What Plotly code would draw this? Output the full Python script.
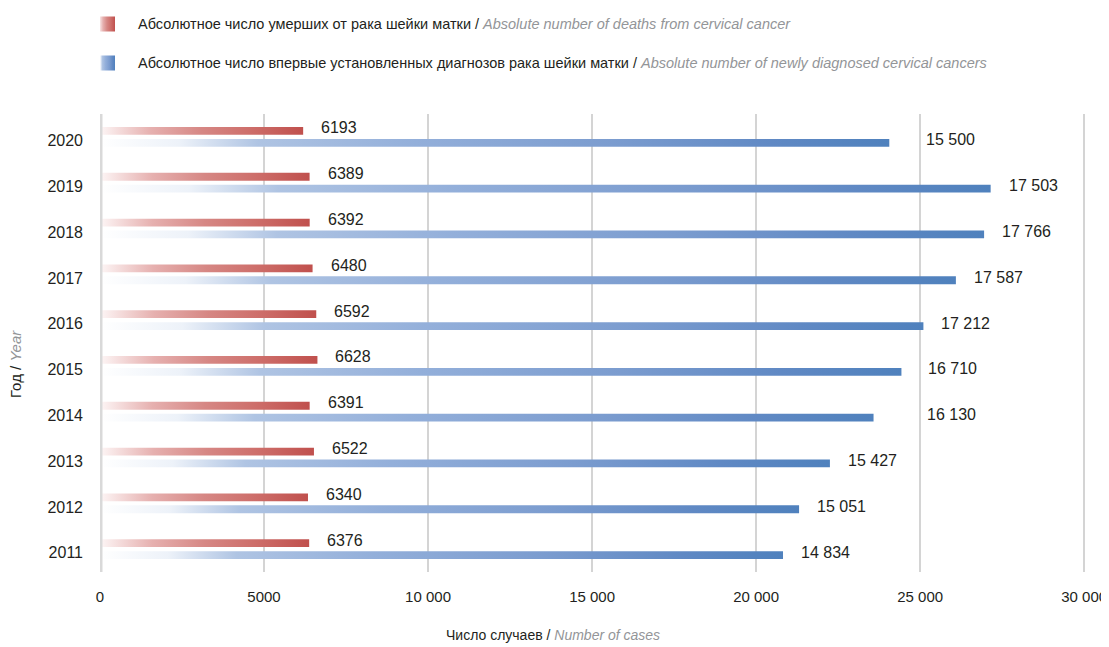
import plotly.graph_objects as go

# ── Data ──────────────────────────────────────────────────────────────────────
years = [2011, 2012, 2013, 2014, 2015, 2016, 2017, 2018, 2019, 2020]

# values printed next to the bars
deaths_labels = [6376, 6340, 6522, 6391, 6628, 6592, 6480, 6392, 6389, 6193]
diagnosed_labels = [14834, 15051, 15427, 16130, 16710, 17212, 17587, 17766, 17503, 15500]

# bar lengths as drawn in the source picture
deaths_bars = [6376, 6340, 6522, 6391, 6628, 6592, 6480, 6392, 6389, 6193]
diagnosed_bars = [20820, 21310, 22250, 23580, 24430, 25100, 26090, 26950, 27150, 24060]

x_tickvals = [0, 5000, 10000, 15000, 20000, 25000, 30000]
x_ticktext = ["0", "5000", "10 000", "15 000", "20 000", "25 000", "30 000"]

legend_ru = [
    "Абсолютное число умерших от рака шейки матки",
    "Абсолютное число впервые установленных диагнозов рака шейки матки",
]
legend_en = [
    "Absolute number of deaths from cervical cancer",
    "Absolute number of newly diagnosed cervical cancers",
]

# ── Style ─────────────────────────────────────────────────────────────────────
# the page body has an 8px margin, so the figure starts at (8, 8);
# positions below are given in page px
PAGE_W, PAGE_H, PAGE_OFF = 1109, 647, 8
W, H = PAGE_W - PAGE_OFF, PAGE_H - PAGE_OFF

PLOT_L, PLOT_R, PLOT_TOP, PLOT_BOT = 100, 1094, 114, 572   # page px
M_L = PLOT_L - PAGE_OFF
M_R = W - (PLOT_R - PAGE_OFF)
M_T = 0
M_B = H - (PLOT_BOT - PAGE_OFF)

FONT = "Liberation Sans, Arial, sans-serif"
TXT = "#231f20"
GREY = "#939598"

RED_SCALE = [[0, "#fdf6f6"], [0.25, "#e6b0af"], [0.5, "#d68784"],
             [0.75, "#cd6d69"], [1, "#c0504d"]]
BLUE_SCALE = [[0, "#ffffff"], [0.1, "#edf2f9"], [0.2, "#afc4e3"],
              [0.4, "#93afda"], [0.65, "#7b9ccf"], [0.85, "#6089c4"],
              [1, "#4f81bd"]]

BAR_OFF = 0.13     # bar centre offset from category centre (y units)
BAR_HALF = 0.085   # half bar thickness (y units)
blue_label_pad = [16, 16, 16, 51, 25, 16, 16, 16, 16, 35]

plot_h = H - M_T - M_B
y_dom_top = (PLOT_BOT - PLOT_TOP) / plot_h
leg_dom_bot = y_dom_top + 0.01


def paper_x(px):
    return (px - PLOT_L) / (PLOT_R - PLOT_L)


def paper_y(py):
    return (PLOT_BOT - py) / plot_h


fig = go.Figure()


def add_bar(value, yc, scale, name):
    fig.add_trace(go.Scatter(
        x=[0, value, value, 0, 0],
        y=[yc - BAR_HALF, yc - BAR_HALF, yc + BAR_HALF, yc + BAR_HALF, yc - BAR_HALF],
        mode="lines",
        line=dict(width=0),
        fill="toself",
        fillgradient=dict(type="horizontal", colorscale=scale),
        hoverinfo="skip",
        showlegend=False,
        name=name,
    ))


annotations = []
for i, yr in enumerate(years):
    add_bar(deaths_bars[i], i + BAR_OFF, RED_SCALE, "deaths")
    add_bar(diagnosed_bars[i], i - BAR_OFF, BLUE_SCALE, "diagnosed")
    annotations.append(dict(
        x=deaths_bars[i], y=i + BAR_OFF, xref="x", yref="y",
        text=str(deaths_labels[i]), showarrow=False,
        xanchor="left", yanchor="middle", xshift=16, yshift=3,
        font=dict(family=FONT, size=16, color=TXT),
    ))
    annotations.append(dict(
        x=diagnosed_bars[i], y=i - BAR_OFF, xref="x", yref="y",
        text=f"{diagnosed_labels[i]:,}".replace(",", " "), showarrow=False,
        xanchor="left", yanchor="middle", xshift=blue_label_pad[i], yshift=3,
        font=dict(family=FONT, size=16, color=TXT),
    ))

# legend swatches drawn on a page-pixel scaled overlay axis
legend_rows_y = [24, 63]
for row_y, scale in zip(legend_rows_y, [RED_SCALE, BLUE_SCALE]):
    fig.add_trace(go.Scatter(
        x=[99, 115, 115, 99, 99],
        y=[row_y - 7.5, row_y - 7.5, row_y + 7.5, row_y + 7.5, row_y - 7.5],
        xaxis="x2", yaxis="y2",
        mode="lines", line=dict(width=0),
        fill="toself",
        fillgradient=dict(type="horizontal", colorscale=scale),
        hoverinfo="skip", showlegend=False,
    ))
for row_y, ru, en in zip(legend_rows_y, legend_ru, legend_en):
    annotations.append(dict(
        x=136, y=row_y, xref="x2", yref="y2",
        text=f"{ru} / <span style='color:{GREY}'><i>{en}</i></span>",
        showarrow=False, xanchor="left", yanchor="middle",
        font=dict(family=FONT, size=14.5, color=TXT),
    ))

# axis titles
annotations.append(dict(
    x=paper_x(553), y=paper_y(635), xref="paper", yref="paper",
    text=f"Число случаев / <span style='color:{GREY}'><i>Number of cases</i></span>",
    showarrow=False, xanchor="center", yanchor="middle",
    font=dict(family=FONT, size=14, color=TXT),
))
annotations.append(dict(
    x=paper_x(15), y=paper_y(364), xref="paper", yref="paper",
    text=f"Год / <span style='color:{GREY}'><i>Year</i></span>",
    showarrow=False, xanchor="center", yanchor="middle", textangle=-90,
    font=dict(family=FONT, size=15, color=TXT),
))

fig.update_layout(
    width=W, height=H,
    margin=dict(l=M_L, r=M_R, t=M_T, b=M_B),
    paper_bgcolor="white",
    plot_bgcolor="white",
    showlegend=False,
    annotations=annotations,
    xaxis=dict(
        range=[0, 30300],
        tickvals=x_tickvals, ticktext=x_ticktext,
        showgrid=True, gridcolor="#d4d4d4", gridwidth=2,
        zeroline=False, showline=False, ticks="",
        ticklabelstandoff=14, ticklabeloverflow="allow",
        tickfont=dict(family=FONT, size=15, color=TXT),
    ),
    yaxis=dict(
        domain=[0, y_dom_top],
        range=[-0.5, 9.5],
        tickvals=[i - 0.08 for i in range(len(years))],
        ticktext=[str(y) for y in years],
        showgrid=False, zeroline=False, showline=False, ticks="",
        ticklabelstandoff=16,
        tickfont=dict(family=FONT, size=16, color=TXT),
    ),
    xaxis2=dict(domain=[0, 1], range=[PLOT_L, PLOT_R], visible=False,
                anchor="y2", fixedrange=True),
    yaxis2=dict(domain=[leg_dom_bot, 1],
                range=[PAGE_OFF + (1 - leg_dom_bot) * plot_h, PAGE_OFF],
                visible=False, anchor="x2", fixedrange=True),
    shapes=[dict(
        type="line", xref="x", yref="paper",
        x0=0, x1=0, y0=0, y1=y_dom_top,
        line=dict(color="#d9d9d9", width=5), layer="above",
    )],
)

fig.write_html("out.html")
